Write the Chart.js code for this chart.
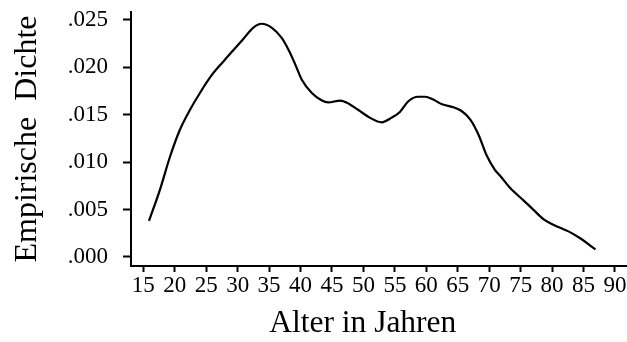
<!DOCTYPE html>
<html>
<head>
<meta charset="utf-8">
<script src="https://cdn.jsdelivr.net/npm/chart.js@4/dist/chart.umd.min.js"></script>
<style>
  html, body { margin: 0; padding: 0; background: #fff; }
  #wrap { width: 627px; height: 342px; }
</style>
</head>
<body>
<div id="wrap"><canvas id="c" width="627" height="342"></canvas></div>
<script>
// Age (years) at which the density curve was read
const ages = [15.9, 17.65, 19.25, 20.8, 22.4, 24.0, 25.9, 27.7, 29.3, 30.9, 32.5, 33.8, 35.4, 37.0, 38.2, 39.1, 40.2, 41.8, 43.4, 44.4, 46.3, 47.6, 49.2, 51.0, 52.9, 54.5, 55.8, 57.1, 58.7, 59.8, 61.1, 62.5, 64.3, 65.6, 67.0, 68.3, 69.6, 70.9, 71.7, 73.3, 75.4, 77.0, 78.6, 80.2, 82.6, 84.4, 86.9];
// Empirical density values
const density = [0.0038, 0.0071, 0.0106, 0.0134, 0.0155, 0.0173, 0.0192, 0.0206, 0.0218, 0.0230, 0.0242, 0.0246, 0.0242, 0.0231, 0.0217, 0.0204, 0.0187, 0.0173, 0.0165, 0.0163, 0.0165, 0.0162, 0.0155, 0.0147, 0.0142, 0.0147, 0.0153, 0.0164, 0.0169, 0.0169, 0.0166, 0.0161, 0.0158, 0.0154, 0.0145, 0.0129, 0.0107, 0.0092, 0.0086, 0.0073, 0.0060, 0.0050, 0.0040, 0.0034, 0.0027, 0.0020, 0.0008];
// Tick values
const xTicks = [15, 20, 25, 30, 35, 40, 45, 50, 55, 60, 65, 70, 75, 80, 85, 90];
const yTicks = [0.000, 0.005, 0.010, 0.015, 0.020, 0.025];
const xTitle = "Alter in Jahren    ";
const yTitle = "Empirische  Dichte";

const FONT = "'Liberation Serif', 'Times New Roman', serif";
const points = ages.map((a, i) => ({ x: a, y: density[i] }));

new Chart(document.getElementById('c'), {
  type: 'line',
  data: {
    datasets: [{
      data: points,
      borderColor: '#000',
      borderWidth: 2.2,
      pointRadius: 0,
      cubicInterpolationMode: 'monotone',
      fill: false
    }]
  },
  options: {
    responsive: false,
    animation: false,
    devicePixelRatio: 1,
    layout: { padding: { top: 12, right: 1, left: 0, bottom: 0 } },
    plugins: { legend: { display: false }, tooltip: { enabled: false } },
    scales: {
      x: {
        type: 'linear',
        min: 13.04,
        max: 91.75,
        afterFit: (s) => { s.height = 76; s.paddingLeft = 0; s.paddingRight = 0; },
        afterBuildTicks: (s) => { s.ticks = xTicks.map(v => ({ value: v })); },
        ticks: {
          autoSkip: false, maxRotation: 0, minRotation: 0,
          color: '#000', padding: 0,
          font: { family: FONT, size: 23 },
          callback: (v) => String(v)
        },
        grid: { display: true, drawOnChartArea: false, drawTicks: true, tickLength: 6, tickWidth: 2, tickColor: '#000' },
        border: { display: true, color: '#000', width: 2 },
        title: { display: true, text: xTitle, color: '#000', font: { family: FONT, size: 31.5 }, padding: { top: 0, bottom: -1 } }
      },
      y: {
        type: 'linear',
        min: -0.00095,
        max: 0.02584,
        afterFit: (s) => { s.width = 131; s.paddingTop = 0; s.paddingBottom = 0; },
        afterBuildTicks: (s) => { s.ticks = yTicks.map(v => ({ value: v })); },
        ticks: {
          color: '#000', padding: 15,
          font: { family: FONT, size: 23 },
          callback: (v) => Number(v).toFixed(3).replace(/^-?0/, '')
        },
        grid: { display: true, drawOnChartArea: false, drawTicks: true, tickLength: 8, tickWidth: 2, tickColor: '#000' },
        border: { display: true, color: '#000', width: 2 },
        title: { display: true, text: yTitle, color: '#000', font: { family: FONT, size: 32 }, padding: { top: 8, bottom: 0 } }
      }
    }
  }
});
</script>
</body>
</html>
